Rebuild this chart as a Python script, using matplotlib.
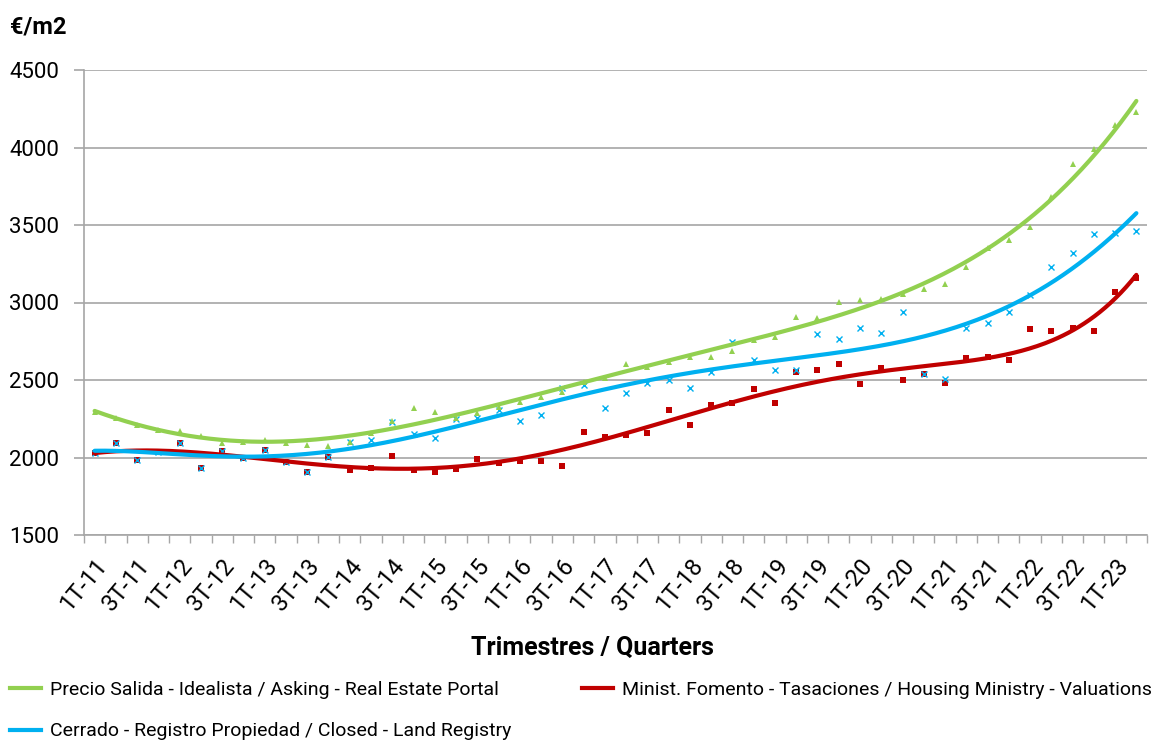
import numpy as np
import matplotlib
matplotlib.use("Agg")
import matplotlib.pyplot as plt
from matplotlib.lines import Line2D

plt.rcParams['font.family'] = ['Roboto', 'DejaVu Sans']

# quarterly prices (EUR/m2), 1T-11 .. 2T-23
asking = [2295, 2255, 2210, 2180, 2173, 2141, 2096, 2102, 2113, 2096,
          2081, 2076, 2102, 2160, 2237, 2322, 2292, 2253, 2289, 2328,
          2360, 2392, 2425, 2489, 2511, 2602, 2582, 2618, 2646, 2651,
          2689, 2758, 2779, 2908, 2898, 3001, 3016, 3023, 3053, 3085,
          3119, 3231, 3350, 3403, 3489, 3683, 3894, 3989, 4145, 4231]
closed = [2027, 2092, 1986, 2035, 2095, 1934, 2042, 1995, 2048, 1970,
          1906, 2003, 2100, 2113, 2231, 2150, 2124, 2246, 2253, 2306,
          2235, 2274, 2446, 2470, 2317, 2414, 2479, 2500, 2450, 2550,
          2743, 2629, 2562, 2562, 2799, 2763, 2837, 2805, 2941, 2537,
          2506, 2837, 2866, 2937, 3048, 3227, 3317, 3442, 3446, 3463]
valuations = [2027, 2092, 1986, 2035, 2095, 1934, 2042, 1995, 2048, 1970,
              1906, 2003, 1919, 1930, 2010, 1919, 1908, 1926, 1990, 1962,
              1980, 1977, 1947, 2164, 2135, 2143, 2156, 2304, 2210, 2339,
              2350, 2444, 2354, 2550, 2562, 2605, 2472, 2575, 2500, 2537,
              2479, 2640, 2651, 2629, 2827, 2818, 2833, 2818, 3066, 3156]

tick_labels = ['1T-11', '3T-11', '1T-12', '3T-12', '1T-13', '3T-13', '1T-14',
               '3T-14', '1T-15', '3T-15', '1T-16', '3T-16', '1T-17', '3T-17',
               '1T-18', '3T-18', '1T-19', '3T-19', '1T-20', '3T-20', '1T-21',
               '3T-21', '1T-22', '3T-22', '1T-23']

names = ['Precio Salida - Idealista / Asking - Real Estate Portal',
         'Cerrado - Registro Propiedad / Closed - Land Registry',
         'Minist. Fomento - Tasaciones / Housing Ministry - Valuations']

green = '#92D050'
blue = '#00B0F0'
red = '#C00000'
grid_c = '#A6A6A6'

fig = plt.figure(figsize=(11.6, 7.44), dpi=100)
ax = fig.add_axes([84 / 1160, 1 - 535 / 744, (1147 - 84) / 1160, (535 - 70) / 744])

x = np.arange(len(asking))
xs = np.linspace(0, len(asking) - 1, 400)

series = [(valuations, red, 's', 4.5), (closed, blue, 'x', 4.5), (asking, green, '^', 4)]
for vals, col, mk, ms in series:
    if mk == 'x':
        ax.plot(x, vals, ls='none', marker=mk, ms=ms, mew=1.0, color=col, zorder=3)
    else:
        ax.plot(x, vals, ls='none', marker=mk, ms=ms, mew=0, color=col, zorder=3)

# polynomial trend lines (order 6), as in the spreadsheet
for vals, col, mk, ms in series:
    p = np.polynomial.Polynomial.fit(x, vals, 6)
    ax.plot(xs, p(xs), color=col, lw=3, solid_capstyle='round', zorder=4)

ax.set_xlim(-0.5, len(asking) - 0.5)
ax.set_ylim(1500, 4500)
ax.set_yticks(np.arange(1500, 4501, 500))
ax.grid(axis='y', color=grid_c, lw=1.2)
ax.set_axisbelow(True)

# labels sit slightly right of the category centre, like the original
ax.set_xticks(np.arange(0, len(asking), 2) + 0.4)
ax.set_xticklabels(tick_labels, rotation=50, ha='right', va='center',
                   rotation_mode='anchor', fontsize=17)
ax.set_xticks(np.arange(-0.5, len(asking), 1), minor=True)
ax.tick_params(axis='x', which='major', length=0, pad=19)
ax.tick_params(axis='x', which='minor', length=6, color=grid_c, width=1)
ax.tick_params(axis='y', length=7, color=grid_c, width=1.2, labelsize=16, pad=11)

for s in ['top', 'right']:
    ax.spines[s].set_visible(False)
for s in ['left', 'bottom']:
    ax.spines[s].set_color(grid_c)
    ax.spines[s].set_linewidth(1.2)

fig.text(10 / 1160, 1 - 27 / 744, '€/m2', fontsize=17, fontweight='bold', va='center', ha='left')
fig.text(592 / 1160, 1 - 648 / 744, 'Trimestres / Quarters', fontsize=18,
         fontweight='bold', ha='center', va='center')

h_green = Line2D([], [], color=green, lw=3)
h_blue = Line2D([], [], color=blue, lw=3)
h_red = Line2D([], [], color=red, lw=3)
leg_kw = dict(loc='upper left', frameon=False, fontsize=14, handlelength=1.6,
              handletextpad=0.45, borderaxespad=0, borderpad=0)
fig.legend([h_green, h_blue], names[:2], bbox_to_anchor=(10 / 1160, 1 - 681 / 744),
           labelspacing=1.2, **leg_kw)
fig.legend([h_red], names[2:], bbox_to_anchor=(582 / 1160, 1 - 681 / 744), **leg_kw)

fig.savefig('out.png', dpi=100)
